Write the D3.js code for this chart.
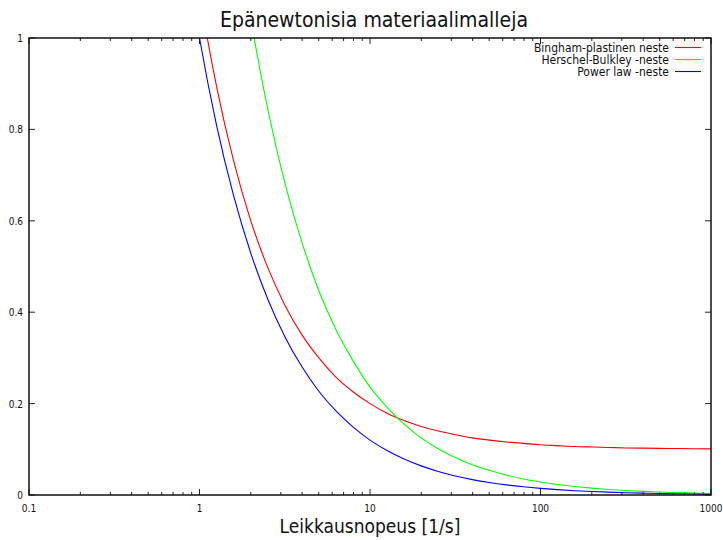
<!DOCTYPE html>
<html><head><meta charset="utf-8">
<script src="https://cdn.jsdelivr.net/npm/d3@7/dist/d3.min.js"></script>
<style>
body{margin:0;background:#fff;}
text{font-family:"DejaVu Sans Condensed","DejaVu Sans",sans-serif;font-stretch:condensed;fill:#111;}
</style></head><body>
<svg id="c" width="723" height="540"></svg>
<script>
const title = "Epänewtonisia materiaalimalleja";
const xLabel = "Leikkausnopeus [1/s]";
const seriesNames = ["Bingham-plastinen neste", "Herschel-Bulkley -neste", "Power law -neste"];
const seriesColors = ["#ff0000", "#00ff00", "#0000ff"];
const xTickValues = [0.1, 1, 10, 100, 1000];
const xTickLabels = ["0.1", "1", "10", "100", "1000"];
const yTickValues = [0, 0.2, 0.4, 0.6, 0.8, 1];
const yTickLabels = ["0", "0.2", "0.4", "0.6", "0.8", "1"];

// shear rate samples
const shearRate = [0.794, 1, 1.259, 1.585, 1.995, 2.512, 3.162, 3.981, 5.012, 6.310, 7.943,
  10, 12.59, 15.85, 19.95, 25.12, 31.62, 39.81, 50.12, 63.10, 79.43,
  100, 125.9, 158.5, 199.5, 251.2, 316.2, 398.1, 501.2, 631.0, 794.3, 1000];
const bingham = [1.359, 1.1, 0.894, 0.731, 0.601, 0.498, 0.416, 0.351, 0.300, 0.258, 0.226,
  0.200, 0.179, 0.163, 0.150, 0.140, 0.132, 0.125, 0.120, 0.116, 0.113,
  0.110, 0.108, 0.106, 0.105, 0.104, 0.103, 0.1025, 0.102, 0.1016, 0.1013, 0.101];
const herschel = [2.44, 1.97, 1.59, 1.29, 1.044, 0.845, 0.684, 0.554, 0.447, 0.362, 0.294,
  0.236, 0.192, 0.155, 0.125, 0.101, 0.082, 0.066, 0.054, 0.0435, 0.035,
  0.0286, 0.023, 0.0186, 0.0151, 0.0122, 0.0099, 0.008, 0.0065, 0.0052, 0.0042, 0.0034];
const powerLaw = [1.236, 1.0, 0.809, 0.655, 0.530, 0.429, 0.347, 0.281, 0.227, 0.184, 0.149,
  0.120, 0.0973, 0.0787, 0.0637, 0.0515, 0.0417, 0.0337, 0.0273, 0.0221, 0.0179,
  0.0145, 0.0117, 0.00946, 0.00766, 0.00619, 0.00501, 0.00406, 0.00328, 0.00265, 0.00215, 0.00174];
const seriesValues = [bingham, herschel, powerLaw];

const L = 29, R = 711, T = 38, B = 495;
const svg = d3.select("#c");
const x = d3.scaleLog().domain([0.1, 1000]).range([L, R]);
const y = d3.scaleLinear().domain([0, 1]).range([B, T]);

svg.append("defs").append("clipPath").attr("id", "clip")
  .append("rect").attr("x", L).attr("y", T).attr("width", R - L).attr("height", B - T);

// title
svg.append("text").attr("x", 374).attr("y", 27).attr("text-anchor", "middle")
  .style("font-size", "21px").text(title);
svg.append("text").attr("x", 370).attr("y", 533).attr("text-anchor", "middle")
  .style("font-size", "19px").text(xLabel);

// ticks (inward, all sides)
const minor = [];
for (let d = 0.1; d < 1000; d *= 10) for (let m = 2; m <= 9; m++) minor.push(d * m);
const tk = svg.append("g").attr("stroke", "#222").attr("stroke-width", 1);
xTickValues.forEach(v => {
  tk.append("line").attr("x1", x(v)).attr("x2", x(v)).attr("y1", B).attr("y2", B - 6);
  tk.append("line").attr("x1", x(v)).attr("x2", x(v)).attr("y1", T).attr("y2", T + 6);
});
minor.forEach(v => {
  tk.append("line").attr("x1", x(v)).attr("x2", x(v)).attr("y1", B).attr("y2", B - 3);
  tk.append("line").attr("x1", x(v)).attr("x2", x(v)).attr("y1", T).attr("y2", T + 3);
});
yTickValues.forEach(v => {
  tk.append("line").attr("x1", L).attr("x2", L + 6).attr("y1", y(v)).attr("y2", y(v));
  tk.append("line").attr("x1", R).attr("x2", R - 6).attr("y1", y(v)).attr("y2", y(v));
});

// tick labels
xTickValues.forEach((v, i) => {
  svg.append("text").attr("x", x(v)).attr("y", 512).attr("text-anchor", "middle")
    .style("font-size", "10px").text(xTickLabels[i]);
});
yTickValues.forEach((v, i) => {
  svg.append("text").attr("x", 23).attr("y", y(v) + 4).attr("text-anchor", "end")
    .style("font-size", "10px").text(yTickLabels[i]);
});

// curves
const line = d3.line().x(d => x(d[0])).y(d => y(d[1])).curve(d3.curveMonotoneX);
const plot = svg.append("g").attr("clip-path", "url(#clip)");
seriesValues.forEach((vals, i) => {
  plot.append("path").datum(shearRate.map((s, j) => [s, vals[j]]))
    .attr("d", line).attr("fill", "none").attr("stroke", seriesColors[i]).attr("stroke-width", 1.1);
});

// border
svg.append("rect").attr("x", L).attr("y", T).attr("width", R - L).attr("height", B - T)
  .attr("fill", "none").attr("stroke", "#111").attr("stroke-width", 1.5);

// legend
seriesNames.forEach((n, i) => {
  const yy = 47.5 + i * 12;
  svg.append("text").attr("x", 669).attr("y", yy + 4).attr("text-anchor", "end")
    .style("font-size", "12px").text(n);
  svg.append("line").attr("x1", 675).attr("x2", 701).attr("y1", yy).attr("y2", yy)
    .attr("stroke", seriesColors[i]).attr("stroke-width", 1.1);
});
</script></body></html>
